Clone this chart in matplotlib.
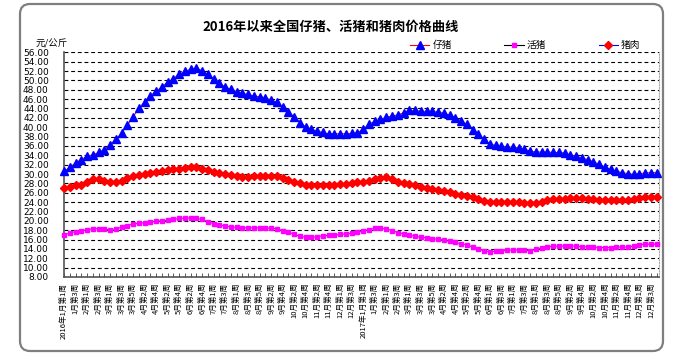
import matplotlib
matplotlib.use("Agg")
import matplotlib.pyplot as plt
from matplotlib.lines import Line2D
from matplotlib.patches import FancyBboxPatch
from matplotlib.transforms import IdentityTransform
from matplotlib.ticker import FixedLocator

plt.rcParams['font.family'] = ['Noto Sans CJK SC', 'DejaVu Sans']

title = "2016年以来全国仔猪、活猪和猪肉价格曲线"
unit = "元/公斤"
series_names = ["仔猪", "活猪", "猪肉"]

piglet = [30.6, 31.4, 32.4, 33.1, 33.8, 34.1, 34.6, 35.2, 36.3, 37.4,
          38.7, 40.4, 42.2, 44.0, 45.4, 46.7, 47.7, 48.6, 49.6, 50.4,
          51.3, 51.9, 52.4, 52.6, 52.1, 51.3, 50.2, 49.4, 48.6, 48.1,
          47.6, 47.2, 47.0, 46.7, 46.5, 46.3, 45.8, 45.3, 44.4, 43.3,
          42.2, 41.0, 40.1, 39.6, 39.1, 38.9, 38.6, 38.6, 38.6, 38.6,
          38.7, 38.8, 39.6, 40.6, 41.3, 41.7, 42.1, 42.4, 42.6, 43.1,
          43.6, 43.6, 43.4, 43.4, 43.4, 43.2, 43.0, 42.6, 42.0, 41.4,
          40.6, 39.5, 38.6, 37.4, 36.4, 36.1, 36.0, 35.8, 35.7, 35.6,
          35.3, 34.9, 34.7, 34.7, 34.7, 34.6, 34.6, 34.5, 34.1, 33.8,
          33.4, 33.1, 32.6, 32.1, 31.5, 31.0, 30.6, 30.3, 30.1, 29.9,
          30.1, 30.2, 30.3, 30.3]

hog = [17.0, 17.4, 17.7, 17.9, 18.1, 18.3, 18.3, 18.2, 18.1, 18.3,
       18.6, 19.0, 19.3, 19.5, 19.6, 19.7, 19.9, 20.0, 20.1, 20.3,
       20.5, 20.6, 20.6, 20.5, 20.3, 19.8, 19.4, 19.1, 18.9, 18.7,
       18.6, 18.5, 18.5, 18.5, 18.5, 18.4, 18.4, 18.3, 17.9, 17.6,
       17.1, 16.7, 16.5, 16.5, 16.6, 16.8, 16.9, 16.9, 17.1, 17.2,
       17.4, 17.6, 17.9, 18.1, 18.4, 18.4, 18.3, 17.9, 17.5, 17.2,
       16.9, 16.7, 16.5, 16.4, 16.2, 16.1, 15.9, 15.6, 15.4, 15.1,
       14.9, 14.4, 14.0, 13.6, 13.4, 13.5, 13.6, 13.7, 13.8, 13.8,
       13.7, 13.6, 13.9, 14.2, 14.4, 14.6, 14.6, 14.6, 14.6, 14.6,
       14.5, 14.4, 14.4, 14.3, 14.3, 14.3, 14.4, 14.4, 14.4, 14.6,
       14.9, 15.0, 15.0, 15.0]

pork = [27.0, 27.2, 27.6, 27.7, 28.3, 29.0, 28.9, 28.6, 28.3, 28.3,
        28.6, 29.1, 29.5, 29.7, 29.9, 30.2, 30.4, 30.6, 30.8, 31.0,
        31.1, 31.2, 31.4, 31.4, 31.1, 30.9, 30.5, 30.2, 29.9, 29.7,
        29.5, 29.4, 29.4, 29.5, 29.5, 29.5, 29.6, 29.5, 29.2, 28.8,
        28.4, 28.1, 27.7, 27.6, 27.6, 27.6, 27.7, 27.7, 27.9, 27.9,
        28.1, 28.2, 28.4, 28.6, 28.9, 29.1, 29.3, 28.9, 28.4, 28.1,
        27.8, 27.6, 27.3, 27.1, 26.9, 26.6, 26.4, 26.1, 25.8, 25.6,
        25.4, 25.1, 24.7, 24.3, 24.1, 24.1, 24.1, 24.1, 24.1, 24.0,
        23.9, 23.8, 23.9, 24.1, 24.4, 24.6, 24.6, 24.7, 24.9, 24.9,
        24.9, 24.7, 24.6, 24.5, 24.4, 24.4, 24.4, 24.4, 24.4, 24.6,
        24.9, 25.1, 25.1, 25.1]

tick_labels = ["2016年1月第1周", "1月第3周", "2月第1周", "2月第3周", "3月第1周", "3月第3周",
               "3月第5周", "4月第2周", "4月第4周", "5月第2周", "5月第4周", "6月第2周",
               "6月第4周", "7月第1周", "7月第3周", "8月第1周", "8月第3周", "8月第5周",
               "9月第2周", "9月第4周", "10月第2周", "10月第4周", "11月第2周", "11月第4周",
               "12月第1周", "12月第3周",
               "2017年1月第1周", "1月第3周", "2月第1周", "2月第3周", "3月第1周", "3月第3周",
               "3月第5周", "4月第2周", "4月第4周", "5月第2周", "5月第4周", "6月第1周",
               "6月第3周", "7月第1周", "7月第3周", "8月第1周", "8月第3周", "8月第5周",
               "9月第2周", "9月第4周", "10月第2周", "10月第4周", "11月第2周", "11月第4周",
               "12月第1周", "12月第3周"]

W, H = 673, 360
fig = plt.figure(figsize=(W / 100, H / 100), dpi=100)

# rounded outer frame (pixel coordinates)
frame = FancyBboxPatch((20, 9), 643, 347, boxstyle="round,pad=0,rounding_size=10",
                       transform=IdentityTransform(), facecolor="none",
                       edgecolor="#7f7f7f", linewidth=1.6, zorder=10)
fig.patches.append(frame)

left, right = 64 / W, 659 / W
bottom, top = 1 - 277 / H, 1 - 52.3 / H
ax = fig.add_axes([left, bottom, right - left, top - bottom])
ax.set_facecolor("none")

x = list(range(len(piglet)))
ax.plot(x, piglet, color="#ff0000", lw=0.7, marker="^", markersize=6.3,
        markerfacecolor="#0000ff", markeredgecolor="#0000ff", zorder=4, clip_on=False)
ax.plot(x, hog, color="#cc00cc", lw=0.8, marker="s", markersize=2.8,
        markerfacecolor="#ff00ff", markeredgecolor="#ff00ff", zorder=4, clip_on=False)
ax.plot(x, pork, color="#0000ff", lw=0.7, marker="D", markersize=4.3,
        markerfacecolor="#ff0000", markeredgecolor="#ff0000", zorder=4, clip_on=False)

ax.set_ylim(8, 56)
ax.set_xlim(0, len(piglet) - 1 + 0.4)
yt = list(range(8, 57, 2))
ax.set_yticks(yt)
ax.set_yticklabels([f"{v:.2f}" for v in yt], fontsize=6.5, family=['DejaVu Sans'])
ax.tick_params(axis="y", length=0, pad=11)

ax.set_xticks(list(range(0, 2 * len(tick_labels), 2)))
ax.set_xticklabels(tick_labels, rotation=90, fontsize=5.5, va="top", ha="center")
ax.xaxis.set_minor_locator(FixedLocator(list(range(len(piglet)))))
ax.tick_params(axis="x", which="both", direction="in", length=3, width=0.6,
               pad=4, color="#404040")

ax.grid(axis="y", color="black", linestyle=(0, (3.5, 2.5)), linewidth=0.8)
ax.set_axisbelow(True)
ax.spines["top"].set_visible(False)
ax.spines["left"].set_color("#555555")
ax.spines["left"].set_linewidth(1.2)
ax.spines["bottom"].set_color("#555555")
ax.spines["bottom"].set_linewidth(1.2)
ax.spines["right"].set_color("#aaaaaa")
ax.spines["right"].set_linestyle((0, (1, 1.5)))
ax.spines["right"].set_linewidth(0.8)

fig.text(331 / W, 1 - 27 / H, title, ha="center", va="center",
         fontsize=9.5, fontweight="bold")
fig.text(36 / W, 1 - 48 / H, unit, ha="left", va="bottom", fontsize=6.8)

handles = [
    Line2D([], [], color="#ff0000", lw=0.8, marker="^", markersize=6,
           markerfacecolor="#0000ff", markeredgecolor="#0000ff"),
    Line2D([], [], color="#000000", lw=0.8, marker="s", markersize=3,
           markerfacecolor="#ff00ff", markeredgecolor="#ff00ff"),
    Line2D([], [], color="#0000ff", lw=0.8, marker="D", markersize=4.2,
           markerfacecolor="#ff0000", markeredgecolor="#ff0000"),
]
fig.legend(handles, series_names, loc="center left", ncol=3,
           bbox_to_anchor=(410 / W, 1 - 45 / H), frameon=False, fontsize=7,
           handlelength=2.0, handletextpad=0.3, columnspacing=5.4,
           borderaxespad=0, borderpad=0)

fig.savefig("out.png", dpi=100)
